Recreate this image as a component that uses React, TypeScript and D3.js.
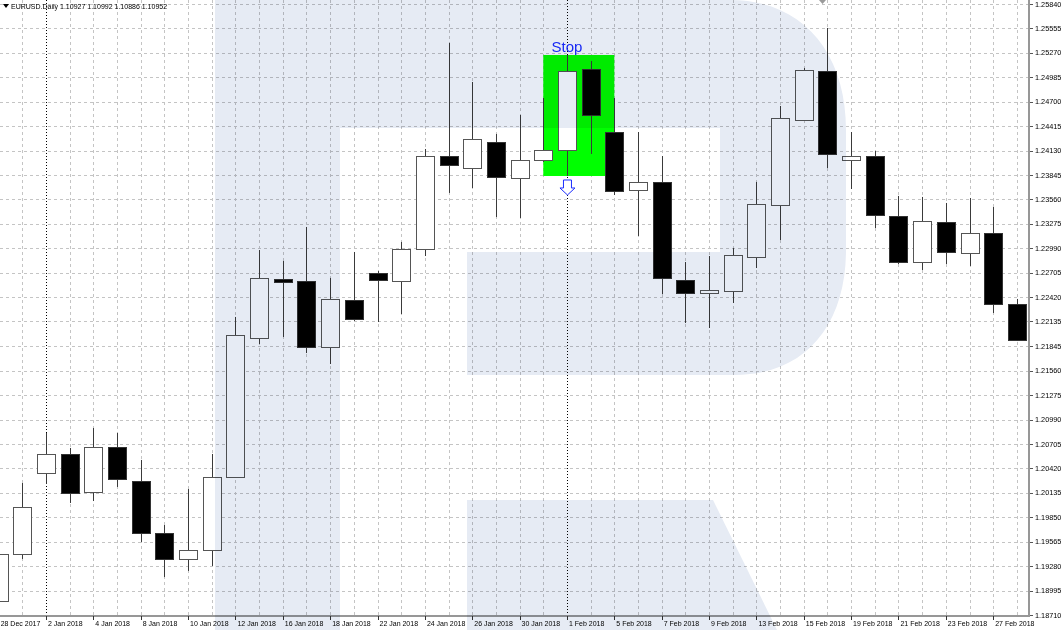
import React from 'react';
import * as d3 from 'd3';

const dates = ["28 Dec 2017","29 Dec 2017","2 Jan 2018","3 Jan 2018","4 Jan 2018","5 Jan 2018","8 Jan 2018","9 Jan 2018","10 Jan 2018","11 Jan 2018","12 Jan 2018","15 Jan 2018","16 Jan 2018","17 Jan 2018","18 Jan 2018","19 Jan 2018","22 Jan 2018","23 Jan 2018","24 Jan 2018","25 Jan 2018","26 Jan 2018","29 Jan 2018","30 Jan 2018","31 Jan 2018","1 Feb 2018","2 Feb 2018","5 Feb 2018","6 Feb 2018","7 Feb 2018","8 Feb 2018","9 Feb 2018","12 Feb 2018","13 Feb 2018","14 Feb 2018","15 Feb 2018","16 Feb 2018","19 Feb 2018","20 Feb 2018","21 Feb 2018","22 Feb 2018","23 Feb 2018","26 Feb 2018","27 Feb 2018","28 Feb 2018"];

const open = [1.18873,1.19422,1.20367,1.20589,1.20145,1.20670,1.20274,1.19667,1.19364,1.19468,1.20320,1.21942,1.22631,1.22608,1.21837,1.22386,1.22701,1.22608,1.22981,1.24066,1.23926,1.24230,1.23810,1.24020,1.24136,1.25082,1.24346,1.23670,1.23763,1.22619,1.22468,1.22491,1.22888,1.23494,1.24486,1.25058,1.24020,1.24066,1.23366,1.22829,1.23296,1.22934,1.23168,1.22339];
const high = [1.19468,1.20250,1.20834,1.20659,1.20892,1.20834,1.20519,1.19760,1.20180,1.20589,1.22188,1.22969,1.22841,1.23238,1.22643,1.22946,1.22724,1.23063,1.24148,1.25385,1.24930,1.24323,1.24545,1.24743,1.25245,1.25175,1.24743,1.24346,1.24066,1.22829,1.22899,1.22993,1.23763,1.24650,1.25093,1.25560,1.24346,1.24125,1.23600,1.23588,1.23518,1.23576,1.23471,1.22398];
const low = [1.18838,1.19364,1.20239,1.20017,1.20040,1.20204,1.19562,1.19153,1.19224,1.19282,1.20309,1.21872,1.21954,1.21767,1.21639,1.22141,1.22129,1.22222,1.22899,1.23635,1.23693,1.23354,1.23343,1.23996,1.23833,1.24090,1.23611,1.23133,1.22456,1.22118,1.22059,1.22351,1.22759,1.23086,1.24475,1.23926,1.23681,1.23226,1.22806,1.22736,1.22806,1.22783,1.22234,1.21907];
const close = [1.19422,1.19970,1.20589,1.20134,1.20670,1.20297,1.19667,1.19364,1.19468,1.20320,1.21977,1.22643,1.22596,1.21837,1.22398,1.22164,1.22619,1.22981,1.24066,1.23961,1.24265,1.23821,1.24020,1.24136,1.25058,1.24545,1.23658,1.23763,1.22643,1.22468,1.22503,1.22911,1.23506,1.24510,1.25070,1.24090,1.24066,1.23378,1.22829,1.23308,1.22946,1.23168,1.22339,1.21919];

const priceTicks = ["1.25840","1.25555","1.25270","1.24985","1.24700","1.24415","1.24130","1.23845","1.23560","1.23275","1.22990","1.22705","1.22420","1.22135","1.21845","1.21560","1.21275","1.20990","1.20705","1.20420","1.20135","1.19850","1.19565","1.19280","1.18995","1.18710"];

const dateTicks = ["28 Dec 2017","2 Jan 2018","4 Jan 2018","8 Jan 2018","10 Jan 2018","12 Jan 2018","16 Jan 2018","18 Jan 2018","22 Jan 2018","24 Jan 2018","26 Jan 2018","30 Jan 2018","1 Feb 2018","5 Feb 2018","7 Feb 2018","9 Feb 2018","13 Feb 2018","15 Feb 2018","19 Feb 2018","21 Feb 2018","23 Feb 2018","27 Feb 2018"];

const periodSeparators = ["2 Jan 2018", "1 Feb 2018"];

const zoneFrom = "31 Jan 2018";
const zoneTo = "5 Feb 2018";
const zoneTop = 1.25245;
const zoneBottom = 1.23833;
const stopDate = "1 Feb 2018";
const stopLabel = "Stop";

const title = "EURUSD.Daily  1.10927 1.10992 1.10886 1.10952";

const W = 1062, H = 630;
const PLOT_R = 1028, PLOT_B = 615;
const FONT = "'Liberation Sans', Arial, sans-serif";

export default function App() {
  const x = d3.scalePoint<string>().domain(dates).range([-1.36, -1.36 + 43 * 23.68]);
  const y = d3.scaleLinear().domain([1.18710, 1.25840]).range([PLOT_B, 4]);
  const bw = 18;
  const stopX = x(stopDate)!;
  const arrowTop = y(zoneBottom) + 4;

  return (
    <div style={{ position: 'absolute', left: 0, top: 0 }}>
      <svg width={W} height={H} style={{ display: 'block', background: '#fff' }}>
        <rect x={0} y={0} width={W} height={H} fill="#fff" />
        {/* horizontal grid */}
        {priceTicks.map((t) => (
          <line key={'h' + t} x1={0} x2={PLOT_R} y1={Math.round(y(+t)) + 0.5} y2={Math.round(y(+t)) + 0.5}
            stroke="#c4c4c4" strokeDasharray="3,3" />
        ))}
        {/* vertical grid */}
        {dates.map((d) => periodSeparators.includes(d) ? null : (
          <line key={'v' + d} x1={Math.round(x(d)!) + 0.5} x2={Math.round(x(d)!) + 0.5} y1={0} y2={PLOT_B}
            stroke="#c4c4c4" strokeDasharray="3,3" />
        ))}
        {/* stop zone */}
        <rect x={x(zoneFrom)!} y={y(zoneTop)} width={x(zoneTo)! - x(zoneFrom)!} height={y(zoneBottom) - y(zoneTop)} fill="#00ff00" />
        {/* period separators */}
        {periodSeparators.map((d) => (
          <line key={'s' + d} x1={Math.round(x(d)!) + 0.5} x2={Math.round(x(d)!) + 0.5} y1={0} y2={PLOT_B}
            stroke="#000" strokeDasharray="1,2" />
        ))}
        {/* candles */}
        {dates.map((d, i) => {
          const cx = Math.round(x(d)!) + 0.5;
          const bull = close[i] >= open[i];
          const top = Math.round(y(Math.max(open[i], close[i])));
          const bot = Math.round(y(Math.min(open[i], close[i])));
          return (
            <g key={'c' + d}>
              <line x1={cx} x2={cx} y1={y(high[i])} y2={y(low[i])} stroke="#3a3a3a" strokeWidth={1} />
              <rect x={cx - bw / 2} y={top + 0.5} width={bw} height={Math.max(bot - top, 2)}
                fill={bull ? '#fff' : '#000'} stroke={bull ? '#555' : '#333'} strokeWidth={1} />
            </g>
          );
        })}
        {/* Stop label & arrow */}
        <text x={stopX} y={y(zoneTop) - 3} textAnchor="middle" fontFamily={FONT} fontSize={15} fill="#1a2cff">{stopLabel}</text>
        <path d={`M${stopX - 3.5},${arrowTop} h8 v8 h3.5 l-7.5,7 l-7.5,-7 h3.5 z`} fill="#fff" stroke="#1a2cff" strokeWidth={1} />
        {/* axes */}
        <line x1={PLOT_R + 1} x2={PLOT_R + 1} y1={0} y2={PLOT_B + 1} stroke="#979797" strokeWidth={2} />
        <line x1={0} x2={PLOT_R + 2} y1={PLOT_B + 1} y2={PLOT_B + 1} stroke="#979797" strokeWidth={2} />
        {priceTicks.map((t) => (
          <g key={'pt' + t}>
            <line x1={PLOT_R + 2} x2={PLOT_R + 5} y1={Math.round(y(+t)) + 0.5} y2={Math.round(y(+t)) + 0.5} stroke="#555" />
            <text x={PLOT_R + 7} y={y(+t) + 2.6} fontFamily={FONT} fontSize={7.3} fill="#000">{t}</text>
          </g>
        ))}
        {dateTicks.map((d) => (
          <g key={'dt' + d}>
            <line x1={Math.round(x(d)!) + 0.5} x2={Math.round(x(d)!) + 0.5} y1={PLOT_B + 1} y2={PLOT_B + 5} stroke="#333" />
            <text x={x(d)! + 2} y={626} fontFamily={FONT} fontSize={7} fill="#000">{d}</text>
          </g>
        ))}
        {/* title */}
        <path d="M3,4 h6 l-3,4 z" fill="#000" />
        <text x={11} y={9} fontFamily={FONT} fontSize={7} fill="#000">{title}</text>
        <path d="M819,0 h7 l-3.5,4 z" fill="#9a9a9a" />
        {/* watermark */}
        <g style={{ mixBlendMode: 'multiply' }} fill="#e6ebf4">
          <path d="M215,0 H730 C800,0 846,50 846,130 V250 C846,325 805,375 735,375 H467 V252 H720 V128 H340 V630 H215 Z" />
          <path d="M467,500 H713 L777,630 H467 Z" />
        </g>
      </svg>
    </div>
  );
}
